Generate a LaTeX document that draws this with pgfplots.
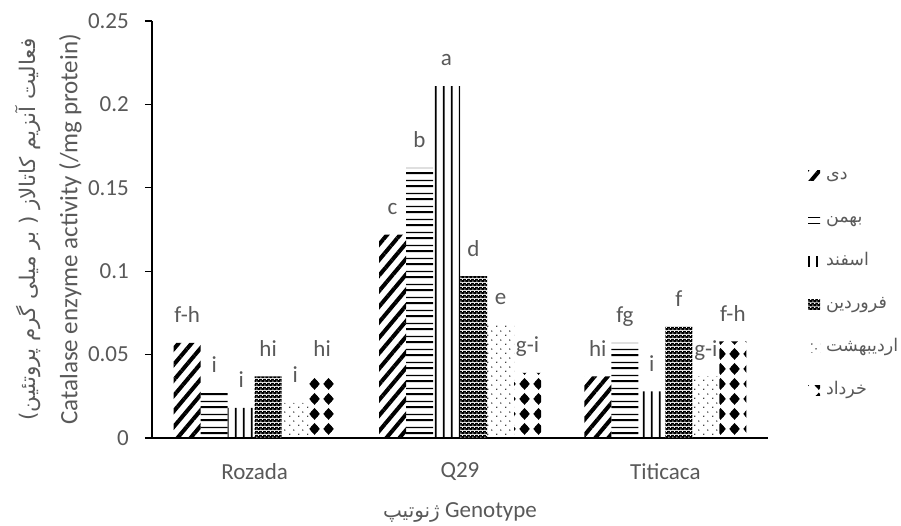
\documentclass[border=0pt]{standalone}
\usepackage{fontspec}
\setmainfont{Carlito}
\newfontfamily\arabicfont[Script=Arabic]{DejaVu Sans}
\usepackage{pgfplots}
\pgfplotsset{compat=1.18}
\usetikzlibrary{patterns,patterns.meta}
\TeXXeTstate=1
\definecolor{txt}{HTML}{595959}

\tikzdeclarepattern{
  name=checkdark, type=colored,
  bottom left={(0pt,0pt)}, top right={(4pt,4pt)}, tile size={(4pt,4pt)},
  code={
    \fill[black] (0pt,0pt) rectangle (4pt,4pt);
    \fill[white] (0.5pt,0.5pt) rectangle (1.6pt,1.6pt);
    \fill[white] (2.5pt,2.5pt) rectangle (3.6pt,3.6pt);
  }
}
\tikzdeclarepattern{
  name=hlines, type=uncolored,
  bottom left={(0pt,0pt)}, top right={(300pt,13pt)}, tile size={(300pt,13pt)},
  code={
    \fill (-1pt,1pt) rectangle (301pt,3pt);
    \fill (-1pt,7.5pt) rectangle (301pt,8.7pt);
  }
}
\tikzdeclarepattern{
  name=vlines, type=uncolored,
  bottom left={(0pt,0pt)}, top right={(8.3pt,300pt)}, tile size={(8.3pt,300pt)},
  code={
    \fill (3pt,-1pt) rectangle (4.9pt,301pt);
  }
}
\tikzdeclarepattern{
  name=sparsedots, type=uncolored,
  bottom left={(0pt,0pt)}, top right={(9pt,9pt)}, tile size={(9pt,9pt)},
  code={
    \fill (2pt,2pt) circle (0.8pt);
    \fill (6.5pt,6.5pt) circle (0.8pt);
  }
}
\tikzdeclarepattern{
  name=balls, type=uncolored,
  bottom left={(0pt,0pt)}, top right={(14pt,15pt)}, tile size={(14pt,15pt)},
  code={
    \fill (7pt,1.2pt) -- (12.6pt,7.5pt) -- (7pt,13.8pt) -- (1.4pt,7.5pt) -- cycle;
    \fill (7pt,7.5pt) circle (4.4pt);
  }
}

\pgfplotsset{
  mybar/.style={draw=none,
    legend image code/.code={\path[##1,draw=none] (0pt,-5pt) rectangle (12pt,5pt);}},
}

\begin{document}
\begin{tikzpicture}
\begin{axis}[
  name=ax, at={(0,0)}, anchor=south west,
  scale only axis, width=616pt, height=417pt,
  xmin=-0.5, xmax=2.5, ymin=0, ymax=0.25,
  ybar=0pt, bar width=27pt,
  axis x line*=bottom, axis y line*=left,
  axis line style={black, line width=1.3pt},
  xtick={0,1,2}, xticklabels={Rozada,Q29,Titicaca},
  ytick={0,0.05,0.1,0.15,0.2,0.25},
  scaled y ticks=false,
  yticklabel={\pgfmathprintnumber[fixed,precision=2,assume math mode=true]{\tick}},
  tick label style={font=\fontsize{23}{27}\selectfont, text=txt},
  xtick style={draw=none},
  ytick style={black, line width=1.2pt},
  tick align=outside, major tick length=7pt,
  xticklabel style={anchor=center, yshift=-27pt},
  yticklabel style={anchor=east, inner sep=0pt, xshift=-16pt},
  nodes near coords,
  point meta=explicit symbolic,
  nodes near coords style={font=\fontsize{23}{27}\selectfont, text=txt, text depth=0pt, inner sep=0pt, anchor=south, yshift=20pt},
  xlabel={{\arabicfont\fontsize{20}{24}\selectfont\beginR ژنوتیپ\endR}{} Genotype},
  xlabel style={at={(axis description cs:0.5,-0.1775)}, anchor=center, font=\fontsize{23}{27}\selectfont, text=txt},
  ylabel={{\arabicfont\fontsize{21.5}{26}\selectfont\beginR فعالیت آنزیم کاتالاز ( بر میلی گرم پروتئین)\endR}\\[14pt]Catalase enzyme activity (/mg protein)},
  ylabel style={at={(axis description cs:-0.168,0.5)}, anchor=center, align=center, font=\fontsize{25}{28}\selectfont, text=txt},
  legend style={at={(1.065,0.652)}, anchor=north west, draw=none, fill=none,
    inner sep=0pt, outer sep=0pt, row sep=25pt,
    nodes={inner sep=0pt, text height=13pt, text depth=5pt, text=txt, font=\arabicfont\fontsize{17.5}{21}\selectfont},
    /tikz/every odd column/.append style={column sep=6pt}},
  legend cell align=left,
]
\addplot[mybar, pattern={Lines[angle=50, distance=10pt, line width=4pt]}]
  coordinates {(0,0.057)[f-h] (1,0.122)[c] (2,0.037)[hi]};
\addplot[mybar, pattern=hlines, pattern color=black]
  coordinates {(0,0.027)[i] (1,0.162)[b] (2,0.057)[fg]};
\addplot[mybar, pattern=vlines, pattern color=black]
  coordinates {(0,0.018)[i] (1,0.211)[a] (2,0.028)[i]};
\addplot[mybar, pattern=checkdark]
  coordinates {(0,0.037)[hi] (1,0.097)[d] (2,0.067)[f]};
\addplot[mybar, pattern=sparsedots, pattern color=black]
  coordinates {(0,0.021)[i] (1,0.068)[e] (2,0.037)[g-i]};
\addplot[mybar, pattern=balls, pattern color=black]
  coordinates {(0,0.037)[hi] (1,0.039)[g-i] (2,0.058)[f-h]};
\addlegendentry{\beginR دی\endR}
\addlegendentry{\beginR بهمن\endR}
\addlegendentry{\beginR اسفند\endR}
\addlegendentry{\beginR فروردین\endR}
\addlegendentry{\beginR اردیبهشت\endR}
\addlegendentry{\beginR خرداد\endR}
\end{axis}
\pgfresetboundingbox
\path ([shift={(-152pt,-87pt)}]ax.south west) rectangle ([shift={(133pt,21pt)}]ax.north east);
\end{tikzpicture}
\end{document}
